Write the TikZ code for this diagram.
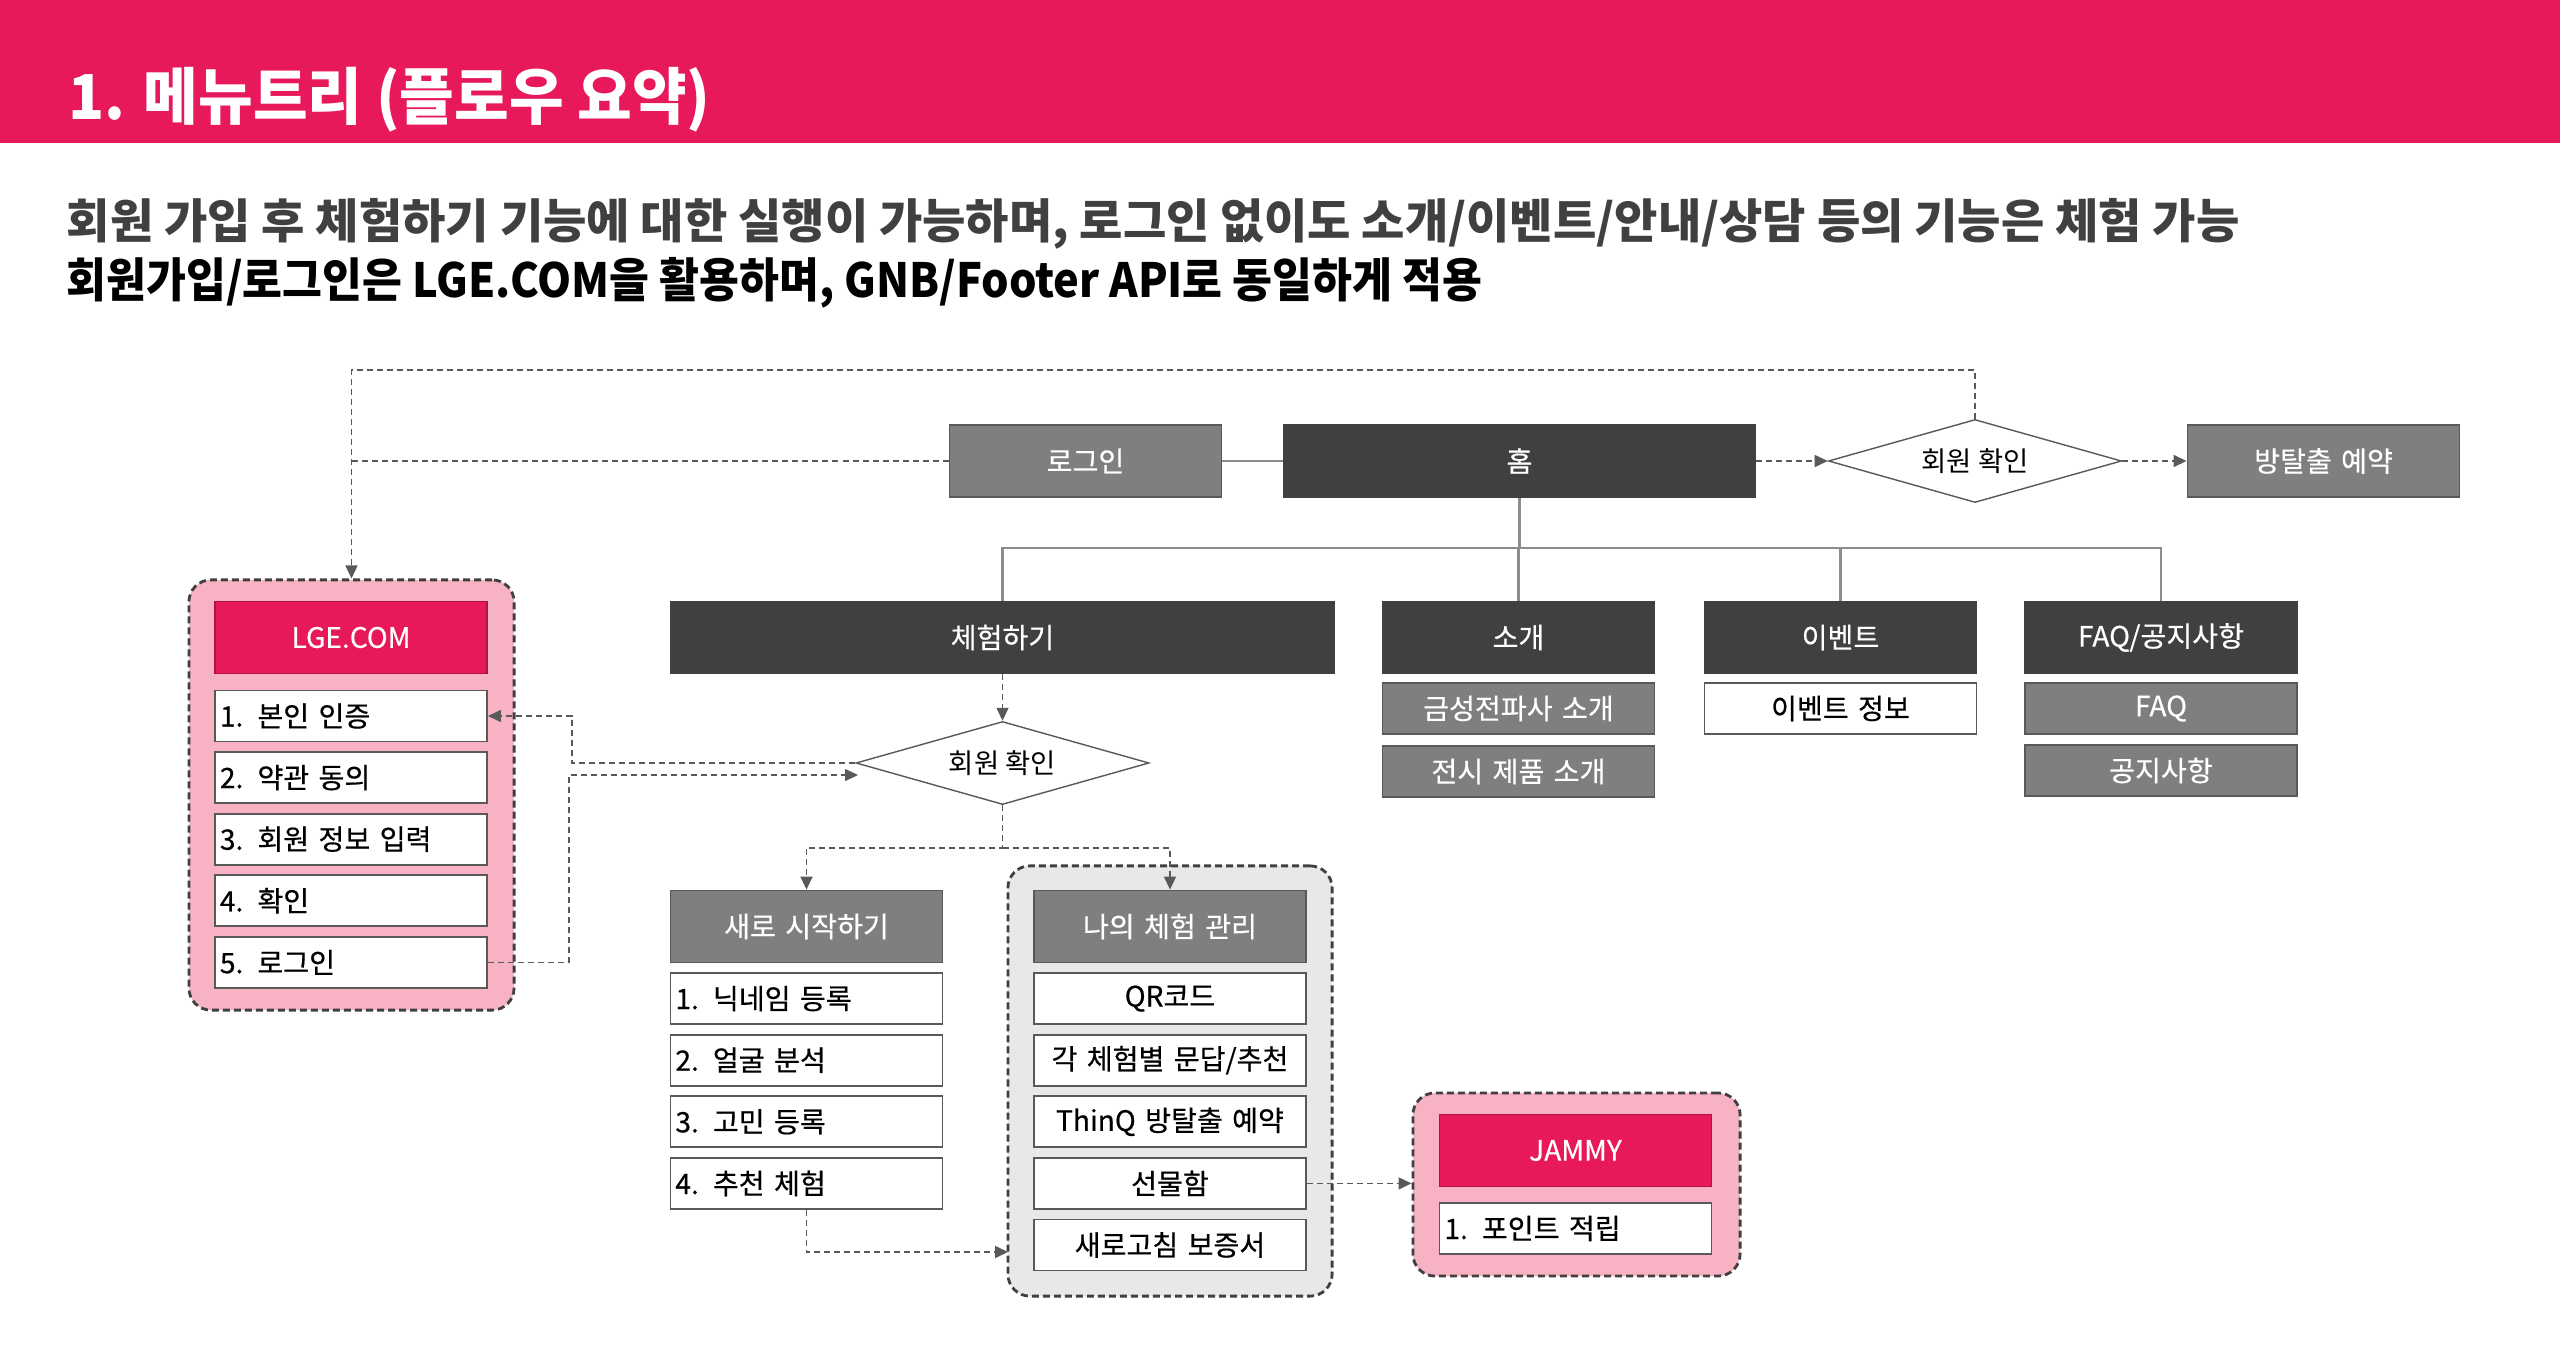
\documentclass[tikz,border=0pt]{standalone}
\usepackage{fontspec}
\setmainfont{Noto Sans CJK KR}
\newfontfamily\krm{Noto Sans CJK KR}[FakeBold=0.5,WordSpace=0.75]
\newfontfamily\krtitle{Noto Sans CJK KR}[FakeStretch=0.96]
\newfontfamily\krnarrow{Noto Sans CJK KR}[FakeStretch=0.92]
\usetikzlibrary{shapes.geometric,arrows.meta,positioning}
\definecolor{lgred}{HTML}{E8195A}
\definecolor{darkc}{HTML}{404040}
\definecolor{midc}{HTML}{7F7F7F}
\definecolor{linec}{HTML}{595959}
\definecolor{treec}{HTML}{8C8C8C}
\definecolor{pinkc}{HTML}{F7B2C4}
\definecolor{lightc}{HTML}{E8E8E8}

\begin{document}
\begin{tikzpicture}[x=0.01cm, y=-0.01cm,
	>={Triangle[length=0.13cm,width=0.12cm]},
	box/.style = {draw=linec, line width=0.5pt, inner sep=0.05cm,
                  text width=2.62cm, minimum height=0.51cm,
                  font=\krm\fontsize{8}{9}\selectfont},
	head/.style = {box, fill=darkc, draw=darkc, text=white, align=center, minimum height=0.72cm},
	grayhead/.style = {head, fill=midc, draw=linec},
	redhead/.style = {head, fill=lgred, draw=lgred!75!black},
	sub/.style = {box, fill=midc, text=white, align=center},
	itemL/.style = {box, fill=white, align=left},
	itemC/.style = {box, fill=white, align=center},
	ask/.style = {diamond, draw=linec, line width=0.4pt, fill=white, aspect=3.5,
                  minimum width=2.93cm, minimum height=0.83cm, inner sep=0pt,
                  font=\fontsize{7.8}{9}\selectfont},
	group/.style = {draw=darkc, dash pattern=on 0.07cm off 0.04cm, line width=0.8pt,
                    rounded corners=0.22cm, inner sep=0pt},
	tree/.style = {draw=treec, line width=0.6pt},
	flow/.style = {draw=linec, line width=0.45pt, dash pattern=on 0.06cm off 0.04cm}
	]
\useasboundingbox (0,0) rectangle (2560,1364);
\fill[lgred] (0,0) rectangle (2560,143);
\node[anchor=base west, inner sep=0, text=white, font=\krtitle\bfseries\fontsize{17.6}{20}\selectfont] (title) at (68,120) {1. 메뉴트리 (플로우 요약)};
\node[anchor=base west, inner sep=0, text=darkc, font=\bfseries\fontsize{13.4}{16}\selectfont] (sub1) at (66,239) {회원 가입 후 체험하기 기능에 대한 실행이 가능하며, 로그인 없이도 소개/이벤트/안내/상담 등의 기능은 체험 가능};
\node[anchor=base west, inner sep=0, text=black, font=\krnarrow\bfseries\fontsize{13.4}{16}\selectfont] (sub2) at (66,298) {회원가입/로그인은 LGE.COM을 활용하며, GNB/Footer API로 동일하게 적용};

% groups
\node[group, fill=pinkc, minimum width=3.25cm, minimum height=4.30cm] (lgebox) at (351.5,795) {};
\node[group, fill=lightc, minimum width=3.24cm, minimum height=4.30cm] (mgmtbox) at (1170,1081) {};
\node[group, fill=pinkc, minimum width=3.27cm, minimum height=1.83cm] (jammybox) at (1576.5,1184.5) {};

% top row
\node[grayhead] (login) at (1085.5,461) {로그인};
\node[head, text width=4.61cm] (home) at (1519.5,461) {홈};
\node[ask] (chk1) at (1975,461) {회원 확인};
\node[grayhead] (escape) at (2323.5,461) {방탈출 예약};

% menu
\node[head, text width=6.53cm] (exp) at (1002.5,637.5) {체험하기};
\node[head] (intro) at (1518.5,637.5) {소개};
\node[head] (event) at (1840.5,637.5) {이벤트};
\node[head] (faq) at (2161,637.5) {FAQ/공지사항};
\node[sub] (intro1) at (1518.5,708.5) {금성전파사 소개};
\node[sub] (intro2) at (1518.5,771.5) {전시 제품 소개};
\node[itemC] (event1) at (1840.5,708.5) {이벤트 정보};
\node[sub] (faq1) at (2161,708.5) {FAQ};
\node[sub] (faq2) at (2161,770.5) {공지사항};
\node[ask] (chk2) at (1002.5,763) {회원 확인};

\node[redhead] (lge) at (351,637.5) {LGE.COM};
\foreach \t [count=\i] in {1. 본인 인증, 2. 약관 동의, 3. 회원 정보 입력, 4. 확인, 5. 로그인}
	\node[itemL] (lge\i) at (351,654.4+61.6*\i) {\t};

\node[grayhead] (new) at (806.5,926.5) {새로 시작하기};
\foreach \t [count=\i] in {1. 닉네임 등록, 2. 얼굴 분석, 3. 고민 등록, 4. 추천 체험}
	\node[itemL] (new\i) at (806.5,937+61.6*\i) {\t};

\node[grayhead] (mine) at (1170,926.5) {나의 체험 관리};
\foreach \t [count=\i] in {QR코드, 각 체험별 문답/추천, ThinQ 방탈출 예약, 선물함, 새로고침 보증서}
	\node[itemC] (mine\i) at (1170,937+61.6*\i) {\t};

\node[redhead] (jammy) at (1575.5,1150.5) {JAMMY};
\node[itemL] (jammy1) at (1575.5,1228.5) {1. 포인트 적립};

% connectors
\coordinate (bus) at (1519.5,548);
\draw[tree] (login.east) -- (home.west);
\foreach \n in {exp,intro,event,faq}
	\draw[tree] (home.south) -- (bus) -| (\n.north);

\coordinate (loopR) at (1975,370);
\draw[flow,->] (chk1.north) -- (loopR) -| (lgebox.north);
\draw[flow] (login.west) -- (login.west -| lgebox.north);
\draw[flow,->] (home.east) -- (chk1.west);
\draw[flow,->] (chk1.east) -- (escape.west);
\draw[flow,->] (exp.south) -- (chk2.north);

\coordinate (split) at (1002.5,848);
\draw[flow,->] (chk2.south) -- (split) -| (new.north);
\draw[flow,->] (split) -| (mine.north);

\coordinate (jog1) at (572,763);
\coordinate (jog2) at (569,775);
\coordinate (chkin) at (858,775);
\draw[flow,->] (chk2.west) -- (jog1) |- (lge1.east);
\draw[flow,->] (lge5.east) -| (jog2) -- (chkin);

\coordinate (mgmtin) at (1008,1252);
\draw[flow,->] (new4.south) |- (mgmtin);
\draw[flow,->] (mine4.east) -- (mine4.east -| jammybox.west);
\end{tikzpicture}
\end{document}
